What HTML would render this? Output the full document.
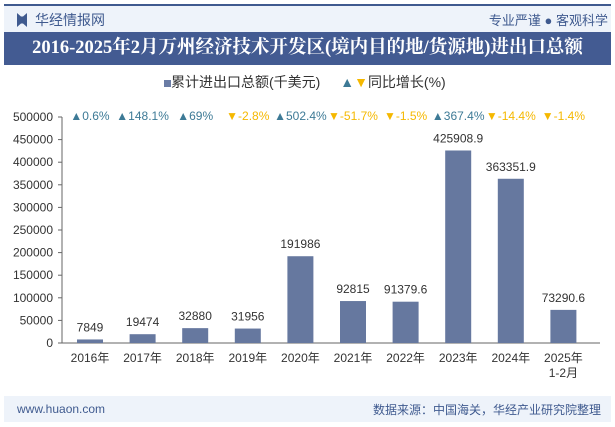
<!DOCTYPE html>
<html><head><meta charset="utf-8"><style>
body{margin:0;width:615px;height:427px;overflow:hidden;background:#fff;font-family:"Liberation Sans","Noto Sans CJK SC",sans-serif;position:relative}
.a{position:absolute}
</style></head><body>
<div class="a" style="left:4px;top:4px;width:607px;height:2px;background:#3f5a8f"></div>
<div class="a" style="left:4px;top:6px;width:607px;height:26px;background:#eef3fa"></div>
<div class="a" style="left:17px;top:13px;width:10px;height:14px;background:#3f5a8f;clip-path:polygon(0 0,40% 25%,60% 25%,100% 0,100% 100%,60% 75%,40% 75%,0 100%)"></div>
<div class="a" style="left:35px;top:10px;font-size:14px;color:#3f5a8f">华经情报网</div>
<div class="a" style="right:7px;top:10px;font-size:13px;color:#3f5a8f">专业严谨 ● 客观科学</div>
<div class="a" style="left:4px;top:32px;width:607px;height:33px;background:#435b92;color:#fff;font-size:18.5px;font-weight:bold;line-height:33px;text-align:center;font-family:'Liberation Serif','Noto Serif CJK SC',serif;white-space:nowrap">2016-2025年2月万州经济技术开发区(境内目的地/货源地)进出口总额</div>
<div class="a" style="left:164px;top:72px;font-size:14px;color:#333;white-space:nowrap">
<span><span style="display:inline-block;width:7px;height:7px;background:#6a7ca5"></span>累计进出口总额(千美元)</span>
<span style="margin-left:16px"><span style="color:#3d7a96">▲</span><span style="color:#f5b800">▼</span>同比增长(%)</span></div>
<svg class="a" style="left:0;top:0" width="615" height="427" id="chart"></svg>
<div class="a" style="left:4px;top:396px;width:607px;height:26px;background:#eef3fa"></div>
<div class="a" style="left:17px;top:402px;font-size:12px;color:#3f5a8f">www.huaon.com</div>
<div class="a" style="right:14px;top:401px;font-size:12px;color:#3f5a8f">数据来源：中国海关，华经产业研究院整理</div>
<script>
const categories=["2016年","2017年","2018年","2019年","2020年","2021年","2022年","2023年","2024年","2025年"];
const values=[7849,19474,32880,31956,191986,92815,91379.6,425908.9,363351.9,73290.6];
const valueLabels=["7849","19474","32880","31956","191986","92815","91379.6","425908.9","363351.9","73290.6"];
const growth=[0.6,148.1,69,-2.8,502.4,-51.7,-1.5,367.4,-14.4,-1.4];
const yTicks=[0,50000,100000,150000,200000,250000,300000,350000,400000,450000,500000];
const svg=document.getElementById('chart');const NS='http://www.w3.org/2000/svg';
const y0=343,yTop=117,x0=62,step=52.6,xc0=90;
const y=v=>y0-(v/500000)*(y0-yTop);const x=i=>xc0+i*step;
function mk(t,a,txt){const e=document.createElementNS(NS,t);for(const k in a)e.setAttribute(k,a[k]);if(txt!=null)e.textContent=txt;svg.appendChild(e);return e;}
let e=mk('line',{x1:x0,y1:yTop,x2:x0,y2:y0,stroke:'#666'});
e=mk('line',{x1:x0,y1:y0,x2:600,y2:y0,stroke:'#666'});
yTicks.forEach(t=>{e=mk('text',{x:53,y:y(t)+4,'text-anchor':'end','font-size':12,fill:'#333'},String(t));
mk('line',{x1:x0-4,y1:y(t),x2:x0,y2:y(t),stroke:'#666'});});
categories.forEach((c,i)=>{
e=mk('rect',{x:x(i)-13,y:y(values[i]),width:26,height:y0-y(values[i]),fill:'#66789f'});
e=mk('text',{x:x(i),y:y(values[i])-8,'text-anchor':'middle','font-size':12,fill:'#333'},valueLabels[i]);
e=mk('text',{x:x(i),y:362,'text-anchor':'middle','font-size':12,fill:'#333'},c);
if(i==9){e=mk('text',{x:x(i),y:377,'text-anchor':'middle','font-size':12,fill:'#333'},'1-2月');}
const g=growth[i];e=mk('text',{x:x(i),y:120,'text-anchor':'middle','font-size':12,fill:g>=0?'#3d7a96':'#f5b800'},(g>=0?'▲':'▼')+g+'%');
});
</script>
</body></html>
